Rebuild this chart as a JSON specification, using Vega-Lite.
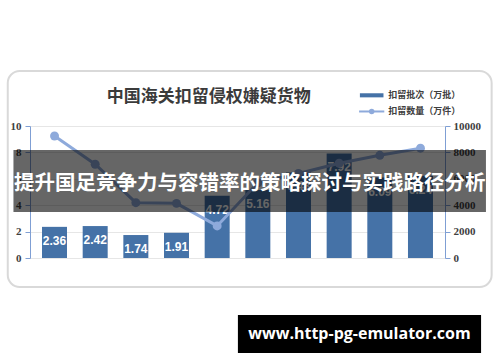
{
  "$schema": "https://vega.github.io/schema/vega-lite/v6.json",
  "width": 415,
  "height": 132,
  "autosize": {"type": "none"},
  "padding": {"left": 30, "top": 126, "right": 55, "bottom": 104},
  "background": "white",
  "config": {"view": {"stroke": null}},
  "data": {
    "values": [
      {"year": 2014, "batches": 2.36, "qty": 9240},
      {"year": 2015, "batches": 2.42, "qty": 7100},
      {"year": 2016, "batches": 1.74, "qty": 4190},
      {"year": 2017, "batches": 1.91, "qty": 4140},
      {"year": 2018, "batches": 4.72, "qty": 2430},
      {"year": 2019, "batches": 5.16, "qty": 5700},
      {"year": 2020, "batches": 6.48, "qty": 6400},
      {"year": 2021, "batches": 7.92, "qty": 7180},
      {"year": 2022, "batches": 6.09, "qty": 7780},
      {"year": 2023, "batches": 6.24, "qty": 8320}
    ]
  },
  "layer": [
    {
      "data": {"values": [{}]},
      "mark": {"type": "rect", "fill": "transparent", "stroke": "#d9d9d9", "strokeWidth": 2, "cornerRadius": 12, "clip": false},
      "encoding": {
        "x": {"datum": 2012.85, "type": "quantitative", "scale": {"domain": [2013.52, 2023.48], "nice": false, "zero": false}, "axis": null},
        "x2": {"datum": 2024.75},
        "y": {"datum": 14.17, "type": "quantitative", "scale": {"domain": [0, 10], "nice": false}, "axis": null},
        "y2": {"datum": -2.2}
      }
    },
    {
      "data": {"values": [{}]},
      "mark": {"type": "text", "color": "#3b3b3b", "font": "Noto Sans CJK SC", "fontWeight": "bold", "fontSize": 17, "align": "center", "baseline": "middle", "clip": false},
      "encoding": {
        "x": {"datum": 2017.79, "type": "quantitative", "scale": {"domain": [2013.52, 2023.48], "nice": false, "zero": false}, "axis": null},
        "y": {"datum": 12.2, "type": "quantitative", "scale": {"domain": [0, 10], "nice": false}, "axis": null},
        "text": {"value": "中国海关扣留侵权嫌疑货物"}
      }
    },
    {
      "mark": {"type": "bar", "size": 25, "color": "#4572a7"},
      "encoding": {
        "x": {
          "field": "year", "type": "quantitative",
          "scale": {"domain": [2013.52, 2023.48], "nice": false, "zero": false},
          "axis": {
            "values": [2014, 2015, 2016, 2017, 2018, 2019, 2020, 2021, 2022, 2023],
            "labelExpr": "datum.value + '年'",
            "title": null, "grid": false, "ticks": false,
            "domainColor": "#d9d9d9",
            "labelFont": "Liberation Serif", "labelFontWeight": "bold", "labelFontSize": 11,
            "labelColor": "#404040", "labelPadding": 8, "labelFlush": false, "labelOverlap": false
          }
        },
        "y": {
          "field": "batches", "type": "quantitative",
          "scale": {"domain": [0, 10], "nice": false},
          "axis": {
            "orient": "left", "values": [0, 2, 4, 6, 8, 10], "title": null,
            "grid": true, "gridColor": "#e6e6e6",
            "domainColor": "#7f9fd4", "tickColor": "#7f9fd4", "tickSize": 5,
            "labelFont": "Liberation Serif", "labelFontWeight": "bold", "labelFontSize": 11,
            "labelColor": "#404040", "labelPadding": 4
          }
        }
      }
    },
    {
      "mark": {"type": "text", "dy": 14, "color": "white", "font": "Liberation Sans", "fontWeight": "bold", "fontSize": 12},
      "encoding": {
        "x": {"field": "year", "type": "quantitative", "scale": {"domain": [2013.52, 2023.48], "nice": false, "zero": false}, "axis": null},
        "y": {"field": "batches", "type": "quantitative", "scale": {"domain": [0, 10], "nice": false}, "axis": null},
        "text": {"field": "batches", "type": "quantitative", "format": ".2f"}
      }
    },
    {
      "mark": {"type": "line", "color": "#8eaadb", "strokeWidth": 3, "point": {"filled": true, "size": 80, "color": "#8eaadb"}},
      "encoding": {
        "x": {"field": "year", "type": "quantitative", "scale": {"domain": [2013.52, 2023.48], "nice": false, "zero": false}, "axis": null},
        "y": {
          "field": "qty", "type": "quantitative",
          "scale": {"domain": [0, 10000], "nice": false},
          "axis": {
            "orient": "right", "values": [0, 2000, 4000, 6000, 8000, 10000], "format": "d", "title": null,
            "grid": false, "domainColor": "#7f9fd4", "tickColor": "#7f9fd4", "tickSize": 5,
            "labelFont": "Liberation Serif", "labelFontWeight": "bold", "labelFontSize": 11,
            "labelColor": "#404040", "labelPadding": 3
          }
        }
      }
    },
    {
      "data": {"values": [{}]},
      "mark": {"type": "rect", "color": "black", "opacity": 0.6, "clip": false},
      "encoding": {
        "x": {"datum": 2012.99, "type": "quantitative", "scale": {"domain": [2013.52, 2023.48], "nice": false, "zero": false}, "axis": null},
        "x2": {"datum": 2024.61},
        "y": {"datum": 8.18, "type": "quantitative", "scale": {"domain": [0, 10], "nice": false}, "axis": null},
        "y2": {"datum": 3.48}
      }
    },
    {
      "data": {"values": [{}]},
      "mark": {"type": "text", "color": "white", "font": "Noto Sans CJK SC", "fontWeight": "bold", "fontSize": 20.5, "align": "center", "baseline": "middle", "clip": false},
      "encoding": {
        "x": {"datum": 2018.8, "type": "quantitative", "scale": {"domain": [2013.52, 2023.48], "nice": false, "zero": false}, "axis": null},
        "y": {"datum": 5.63, "type": "quantitative", "scale": {"domain": [0, 10], "nice": false}, "axis": null},
        "text": {"value": "提升国足竞争力与容错率的策略探讨与实践路径分析"}
      }
    },
    {
      "data": {"values": [{}]},
      "mark": {"type": "rect", "color": "#4572a7", "clip": false},
      "encoding": {
        "x": {"datum": 2021.51, "type": "quantitative", "scale": {"domain": [2013.52, 2023.48], "nice": false, "zero": false}, "axis": null},
        "x2": {"datum": 2022.09},
        "y": {"datum": 12.48, "type": "quantitative", "scale": {"domain": [0, 10], "nice": false}, "axis": null},
        "y2": {"datum": 12.17}
      }
    },
    {
      "data": {"values": [{}]},
      "mark": {"type": "rule", "color": "#8eaadb", "strokeWidth": 2, "clip": false},
      "encoding": {
        "x": {"datum": 2021.49, "type": "quantitative", "scale": {"domain": [2013.52, 2023.48], "nice": false, "zero": false}, "axis": null},
        "x2": {"datum": 2022.11},
        "y": {"datum": 11.1, "type": "quantitative", "scale": {"domain": [0, 10], "nice": false}, "axis": null}
      }
    },
    {
      "data": {"values": [{}]},
      "mark": {"type": "point", "filled": true, "color": "#8eaadb", "size": 30, "opacity": 1, "clip": false},
      "encoding": {
        "x": {"datum": 2021.8, "type": "quantitative", "scale": {"domain": [2013.52, 2023.48], "nice": false, "zero": false}, "axis": null},
        "y": {"datum": 11.1, "type": "quantitative", "scale": {"domain": [0, 10], "nice": false}, "axis": null}
      }
    },
    {
      "data": {"values": [{}]},
      "mark": {"type": "text", "color": "#404040", "font": "Noto Sans CJK SC", "fontWeight": "bold", "fontSize": 9, "align": "left", "baseline": "middle", "clip": false},
      "encoding": {
        "x": {"datum": 2022.21, "type": "quantitative", "scale": {"domain": [2013.52, 2023.48], "nice": false, "zero": false}, "axis": null},
        "y": {"datum": 12.35, "type": "quantitative", "scale": {"domain": [0, 10], "nice": false}, "axis": null},
        "text": {"value": "扣留批次（万批）"}
      }
    },
    {
      "data": {"values": [{}]},
      "mark": {"type": "text", "color": "#404040", "font": "Noto Sans CJK SC", "fontWeight": "bold", "fontSize": 9, "align": "left", "baseline": "middle", "clip": false},
      "encoding": {
        "x": {"datum": 2022.21, "type": "quantitative", "scale": {"domain": [2013.52, 2023.48], "nice": false, "zero": false}, "axis": null},
        "y": {"datum": 11.1, "type": "quantitative", "scale": {"domain": [0, 10], "nice": false}, "axis": null},
        "text": {"value": "扣留数量（万件）"}
      }
    },
    {
      "data": {"values": [{}]},
      "mark": {"type": "rect", "color": "black", "clip": false},
      "encoding": {
        "x": {"datum": 2018.51, "type": "quantitative", "scale": {"domain": [2013.52, 2023.48], "nice": false, "zero": false}, "axis": null},
        "x2": {"datum": 2024.49},
        "y": {"datum": -4.32, "type": "quantitative", "scale": {"domain": [0, 10], "nice": false}, "axis": null},
        "y2": {"datum": -7.2}
      }
    },
    {
      "data": {"values": [{}]},
      "mark": {"type": "text", "color": "white", "font": "Open Sans", "fontWeight": "bold", "fontSize": 16, "align": "center", "baseline": "middle", "clip": false},
      "encoding": {
        "x": {"datum": 2021.5, "type": "quantitative", "scale": {"domain": [2013.52, 2023.48], "nice": false, "zero": false}, "axis": null},
        "y": {"datum": -5.76, "type": "quantitative", "scale": {"domain": [0, 10], "nice": false}, "axis": null},
        "text": {"value": "www.http-pg-emulator.com"}
      }
    }
  ],
  "resolve": {"scale": {"y": "independent"}}
}
